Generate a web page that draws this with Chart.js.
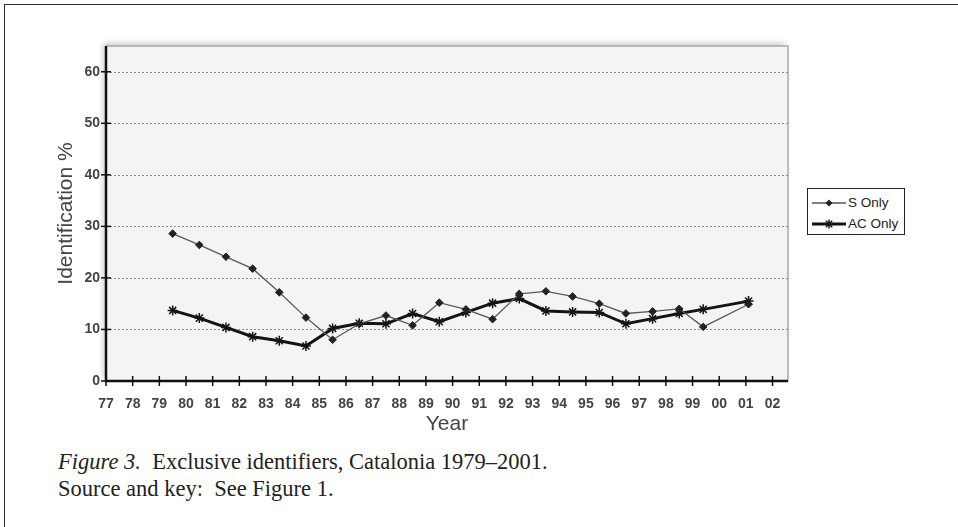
<!DOCTYPE html>
<html>
<head>
<meta charset="utf-8">
<script src="https://cdn.jsdelivr.net/npm/chart.js@4.4.1/dist/chart.umd.min.js"></script>
<style>
  html, body { margin: 0; padding: 0; background: #fff; }
  body { width: 958px; height: 527px; position: relative; overflow: hidden; font-family: "Liberation Sans", Arial, sans-serif; }
  #frame { position: absolute; left: 4px; top: 4px; width: 1000px; height: 600px; border-left: 1.5px solid #333; border-top: 1.5px solid #333; }
  #wrap { position: absolute; left: 0; top: 0; width: 958px; height: 440px; }
  #legend { position: absolute; left: 807px; top: 188px; width: 96px; height: 45px; border: 1.5px solid #222; background: #fff; color: #222; font-size: 13.5px; }
  #legend .row { position: absolute; left: 4px; height: 16px; white-space: nowrap; }
  #legend svg { position: absolute; left: 0; top: 3px; }
  #legend span { position: absolute; left: 36px; top: 0; line-height: 16px; }
  #caption { position: absolute; left: 58px; top: 448px; font-family: "Liberation Serif", "Times New Roman", serif; font-size: 22.5px; line-height: 27px; color: #222; }
</style>
</head>
<body>
<div id="frame"></div>
<div id="wrap"><canvas id="chart" width="958" height="440"></canvas></div>
<div id="legend"></div>
<div id="caption"><i>Figure 3.</i>&nbsp; Exclusive identifiers, Catalonia 1979–2001.<br>Source and key:&nbsp; See Figure 1.</div>
<script>
const years = [1979.5, 1980.5, 1981.5, 1982.5, 1983.5, 1984.5, 1985.5, 1986.5, 1987.5, 1988.5, 1989.5,
               1990.5, 1991.5, 1992.5, 1993.5, 1994.5, 1995.5, 1996.5, 1997.5, 1998.5, 1999.4, 2001.1];
const sOnly = [28.6, 26.4, 24.1, 21.8, 17.2, 12.3, 8.0, 11.1, 12.7, 10.8, 15.2,
               13.9, 12.0, 16.9, 17.4, 16.4, 15.0, 13.1, 13.5, 14.0, 10.5, 14.9];
const acOnly = [13.7, 12.2, 10.4, 8.6, 7.8, 6.8, 10.2, 11.2, 11.1, 13.1, 11.5,
                13.3, 15.1, 16.0, 13.6, 13.4, 13.3, 11.1, 12.1, 13.1, 13.9, 15.5];
const seriesNames = ['S Only', 'AC Only'];
const xTickLabels = ['77', '78', '79', '80', '81', '82', '83', '84', '85', '86', '87', '88', '89',
                     '90', '91', '92', '93', '94', '95', '96', '97', '98', '99', '00', '01', '02'];

// legend (html)
const legendSvg = [
  '<svg width="34" height="10"><line x1="0" y1="5" x2="34" y2="5" stroke="#555" stroke-width="1.3"/><path d="M17 1.5L20.5 5L17 8.5L13.5 5Z" fill="#222"/></svg>',
  '<svg width="34" height="10"><line x1="0" y1="5" x2="34" y2="5" stroke="#111" stroke-width="3"/><path d="M17 0.5V9.5M12.5 5H21.5M13.8 1.8L20.2 8.2M20.2 1.8L13.8 8.2" stroke="#111" stroke-width="1.5"/></svg>'
];
document.getElementById('legend').innerHTML = seriesNames.map((n, i) =>
  '<div class="row" style="top:' + (6 + i * 21) + 'px">' + legendSvg[i] + '<span>' + n + '</span></div>').join('');

const plotFrame = {
  id: 'plotFrame',
  beforeDraw(chart) {
    const { ctx, chartArea: a } = chart;
    ctx.save();
    ctx.shadowColor = 'rgba(0,0,0,0.2)';
    ctx.shadowBlur = 6;
    ctx.shadowOffsetX = -3;
    ctx.shadowOffsetY = -3;
    ctx.fillStyle = '#f4f4f6';
    ctx.fillRect(a.left, a.top, a.width, a.height);
    ctx.restore();
    ctx.save();
    ctx.strokeStyle = '#a8a8a8';
    ctx.lineWidth = 1.5;
    ctx.beginPath();
    ctx.moveTo(a.left, a.top);
    ctx.lineTo(a.right, a.top);
    ctx.lineTo(a.right, a.bottom);
    ctx.stroke();
    ctx.restore();
  },
  beforeDatasetsDraw(chart) {
    const { ctx, chartArea: a, scales: { x, y } } = chart;
    ctx.save();
    // dotted grid
    ctx.strokeStyle = '#8c8c8c';
    ctx.lineWidth = 1;
    ctx.setLineDash([2, 2]);
    y.ticks.forEach(t => {
      if (t.value === 0) return;
      const py = Math.round(y.getPixelForValue(t.value)) + 0.5;
      ctx.beginPath();
      ctx.moveTo(a.left, py);
      ctx.lineTo(a.right, py);
      ctx.stroke();
    });
    ctx.setLineDash([]);
    // axes
    ctx.strokeStyle = '#111';
    ctx.lineWidth = 2.5;
    ctx.beginPath();
    ctx.moveTo(a.left, a.top);
    ctx.lineTo(a.left, a.bottom);
    ctx.lineTo(a.right, a.bottom);
    ctx.stroke();
    ctx.lineWidth = 1.5;
    x.ticks.forEach(t => {
      const px = x.getPixelForValue(t.value);
      ctx.beginPath();
      ctx.moveTo(px, a.bottom - 5);
      ctx.lineTo(px, a.bottom + 5);
      ctx.stroke();
    });
    y.ticks.forEach(t => {
      const py = y.getPixelForValue(t.value);
      ctx.beginPath();
      ctx.moveTo(a.left - 5, py);
      ctx.lineTo(a.left + 5, py);
      ctx.stroke();
    });
    ctx.restore();
  }
};

const tickFont = { family: '"Liberation Sans", Arial, sans-serif', size: 14, weight: 'bold' };
const titleFont = { family: '"Liberation Sans", Arial, sans-serif', size: 21 };

new Chart(document.getElementById('chart'), {
  type: 'line',
  data: {
    datasets: [
      {
        label: seriesNames[0],
        data: years.map((yr, i) => ({ x: yr, y: sOnly[i] })),
        borderColor: '#5a5a5a',
        borderWidth: 1.3,
        pointStyle: 'rectRot',
        pointRadius: 3.8,
        pointBackgroundColor: '#222',
        pointBorderColor: '#222',
        pointBorderWidth: 1,
        tension: 0
      },
      {
        label: seriesNames[1],
        data: years.map((yr, i) => ({ x: yr, y: acOnly[i] })),
        borderColor: '#141414',
        borderWidth: 3,
        pointStyle: 'star',
        pointRadius: 5,
        pointBorderColor: '#141414',
        pointBorderWidth: 1.5,
        tension: 0
      }
    ]
  },
  options: {
    responsive: false,
    animation: false,
    devicePixelRatio: 1,
    layout: { padding: { left: 0, top: 46, right: 170, bottom: 0 } },
    plugins: { legend: { display: false }, tooltip: { enabled: false } },
    scales: {
      x: {
        type: 'linear',
        min: 1977,
        max: 2002.58,
        grid: { display: false, drawTicks: false },
        border: { display: false },
        ticks: {
          stepSize: 1,
          includeBounds: false,
          autoSkip: false,
          maxRotation: 0,
          padding: 15,
          color: '#444',
          font: tickFont,
          callback: (v, i) => xTickLabels[i]
        },
        title: { display: true, text: 'Year', color: '#444', font: titleFont, padding: { top: 0, bottom: 3 } },
        afterFit: s => { s.height = 59; }
      },
      y: {
        min: 0,
        max: 65,
        grid: { display: false, drawTicks: false },
        border: { display: false },
        ticks: { stepSize: 10, includeBounds: false, padding: 6, color: '#444', font: tickFont },
        title: { display: true, text: 'Identification %', color: '#444', font: titleFont, padding: { top: 54, bottom: 0 } },
        afterFit: s => { s.width = 106; }
      }
    }
  },
  plugins: [plotFrame]
});
</script>
</body>
</html>
